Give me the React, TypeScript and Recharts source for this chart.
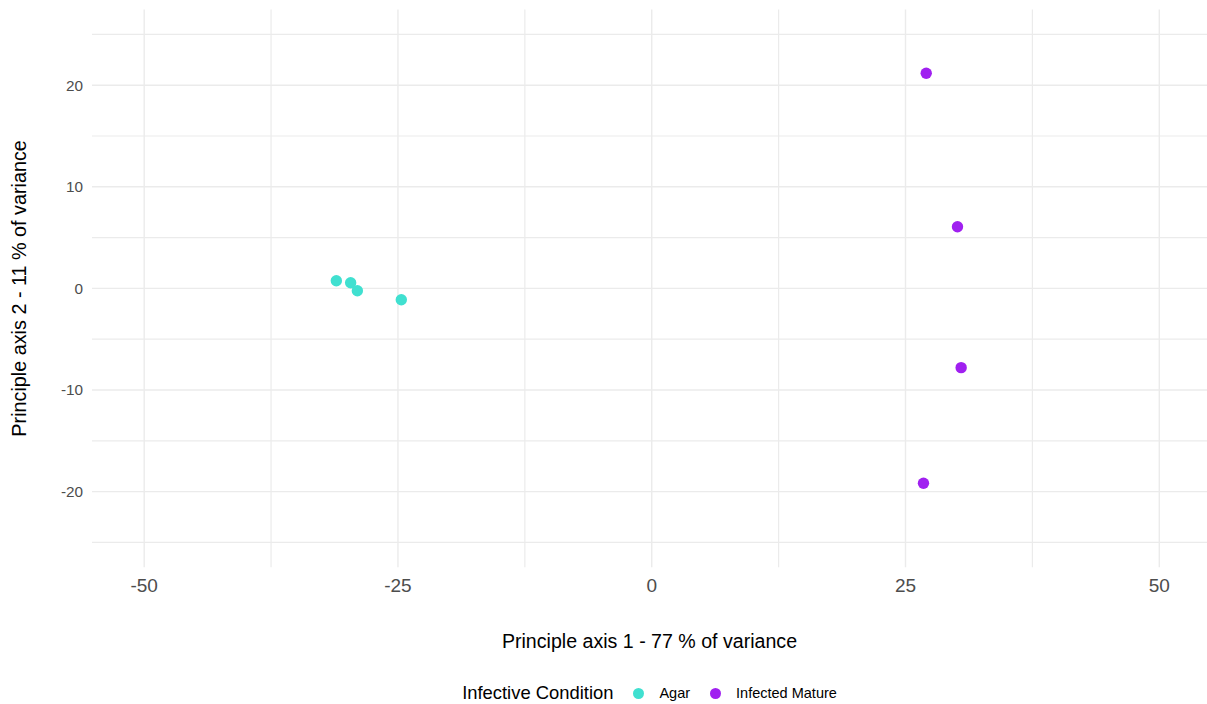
import React from "react";
import {
  ScatterChart,
  Scatter,
  XAxis,
  YAxis,
  ReferenceLine,
  Legend,
} from "recharts";

// PCA scores
const agarX = [-31.07, -29.66, -29.0, -24.67];
const agarY = [0.76, 0.56, -0.23, -1.11];
const matureX = [27.04, 30.12, 30.48, 26.77];
const matureY = [21.17, 6.07, -7.8, -19.18];

const xTicks = [-50, -25, 0, 25, 50];
const yTicks = [-20, -10, 0, 10, 20];
const xMinor = [-37.5, -12.5, 12.5, 37.5];
const yMinor = [-25, -15, -5, 5, 15, 25];

const seriesNames = ["Agar", "Infected Mature"];
const seriesColors = ["#40E0D0", "#A020F0"];

const agar = agarX.map((x, i) => ({ x, y: agarY[i] }));
const mature = matureX.map((x, i) => ({ x, y: matureY[i] }));

const GRID = "#EBEBEB";
const FONT = '"Liberation Sans", Arial, sans-serif';

function Dot(props: any) {
  const { cx, cy, fill } = props;
  return <circle cx={cx} cy={cy} r={5.7} fill={fill} />;
}

function YTitle({ viewBox }: any) {
  const cx = 25.7;
  const cy = viewBox.y + viewBox.height / 2;
  return (
    <text
      x={cx}
      y={cy}
      transform={`rotate(-90, ${cx}, ${cy})`}
      textAnchor="middle"
      fontSize={19.8}
      fill="#000"
    >
      Principle axis 2 - 11 % of variance
    </text>
  );
}

function LegendBox() {
  return (
    <div
      style={{
        height: 22,
        width: 1207,
        boxSizing: "border-box",
        paddingLeft: 92,
        display: "flex",
        justifyContent: "center",
        alignItems: "center",
        fontFamily: FONT,
        color: "#000",
      }}
    >
      <span style={{ fontSize: 18.4, marginRight: 20 }}>Infective Condition</span>
      {seriesNames.map((name, i) => (
        <span key={name} style={{ display: "flex", alignItems: "center", marginRight: i === 0 ? 20 : 0 }}>
          <span
            style={{
              width: 11,
              height: 11,
              borderRadius: "50%",
              background: seriesColors[i],
              display: "inline-block",
              marginRight: 15,
            }}
          />
          <span style={{ fontSize: 14.5 }}>{name}</span>
        </span>
      ))}
    </div>
  );
}

export default function App() {
  return (
    <div style={{ position: "absolute", left: 0, top: 0, fontFamily: FONT, background: "#fff" }}>
      <ScatterChart width={1207} height={704} margin={{ top: 9.5, right: 0, bottom: 0, left: 0 }}>
        {xMinor.map((v) => (
          <ReferenceLine key={`xm${v}`} x={v} stroke={GRID} strokeWidth={1.2} />
        ))}
        {yMinor.map((v) => (
          <ReferenceLine key={`ym${v}`} y={v} stroke={GRID} strokeWidth={1.2} />
        ))}
        {xTicks.map((v) => (
          <ReferenceLine key={`x${v}`} x={v} stroke={GRID} strokeWidth={1.4} />
        ))}
        {yTicks.map((v) => (
          <ReferenceLine key={`y${v}`} y={v} stroke={GRID} strokeWidth={1.4} />
        ))}
        <XAxis
          type="number"
          dataKey="x"
          domain={[-55.14, 54.7]}
          allowDataOverflow
          ticks={xTicks}
          height={114.7}
          axisLine={false}
          tickLine={false}
          tickSize={0}
          tickMargin={11}
          tick={{ fontSize: 19, fill: "#4D4D4D" }}
          label={{
            value: "Principle axis 1 - 77 % of variance",
            position: "insideBottom",
            offset: 34,
            fontSize: 19.6,
            fill: "#000",
          }}
        />
        <YAxis
          type="number"
          dataKey="y"
          domain={[-27.45, 27.45]}
          allowDataOverflow
          ticks={yTicks}
          width={92}
          axisLine={false}
          tickLine={false}
          tickSize={0}
          tickMargin={9}
          tick={{ fontSize: 15.3, fill: "#4D4D4D" }}
          label={<YTitle />}
        />
        <Legend verticalAlign="bottom" content={<LegendBox />} />
        <Scatter name={seriesNames[0]} data={agar} fill={seriesColors[0]} shape={<Dot />} isAnimationActive={false} />
        <Scatter name={seriesNames[1]} data={mature} fill={seriesColors[1]} shape={<Dot />} isAnimationActive={false} />
      </ScatterChart>
    </div>
  );
}
